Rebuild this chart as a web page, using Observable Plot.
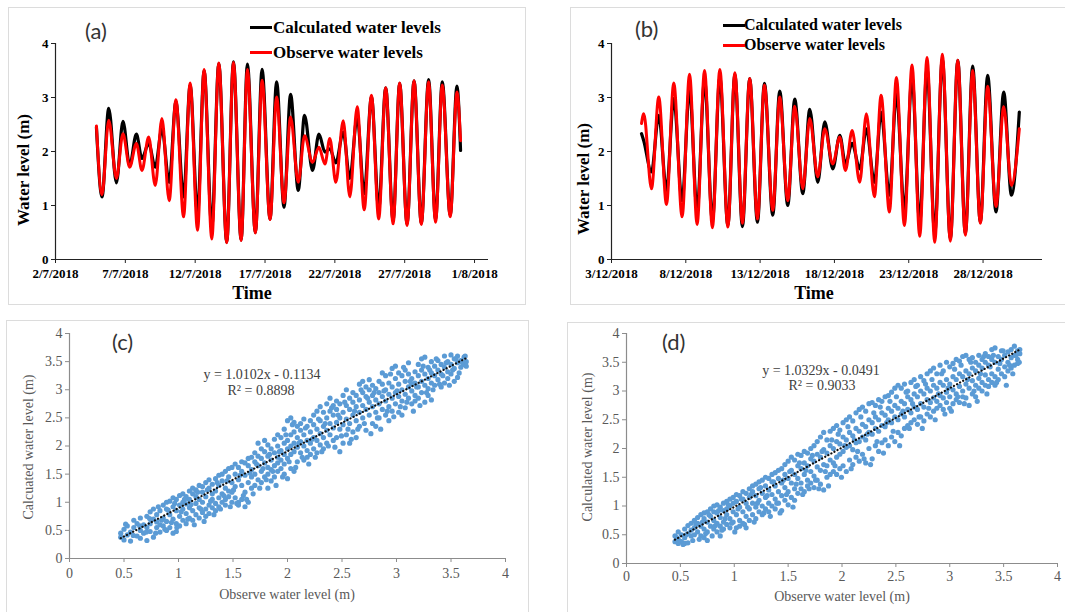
<!DOCTYPE html>
<html><head><meta charset="utf-8">
<script src="https://cdn.jsdelivr.net/npm/d3@7"></script>
<script src="https://cdn.jsdelivr.net/npm/@observablehq/plot@0.6"></script>
<style>
html,body{margin:0;padding:0;background:#fff}
body{width:1065px;height:612px;position:relative;overflow:hidden}
.frame{position:absolute;border:1px solid #dcdcdc;box-sizing:border-box}
.holder{position:absolute}
.holder.ts svg text{font-weight:700 !important}
.t{position:absolute;white-space:nowrap;line-height:1}
.serif{font-family:"Liberation Serif","Times New Roman",serif}
.bold{font-weight:bold}
.sans{font-family:Lato,"Open Sans",sans-serif}
.sw{position:absolute;height:3px;width:22px}
</style></head>
<body>
<script>
// ---------- DATA ----------
// Panel (a): extrema of the tidal curves, time in days after 2/7/2018 00:00
const tA = [2.93,3.33,3.81,4.36,4.83,5.31,5.79,6.19,6.67,7.14,7.62,8.14,8.62,9.17,9.64,10.17,10.64,11.19,11.69,12.26,12.74,13.29,13.74,14.31,14.79,15.36,15.83,16.36,16.83,17.38,17.83,18.40,18.86,19.29,19.64,20.07,20.6,21.07,21.6,22.1,22.62,23.14,23.64,24.17,24.64,25.17,25.67,26.19,26.71,27.21,27.69,28.26,28.74,29.0];
const calcA = [2.45,1.16,2.8,1.42,2.56,1.74,2.32,1.87,2.15,1.71,2.42,1.43,2.92,1.16,3.23,0.85,3.5,0.6,3.63,0.32,3.66,0.36,3.62,0.5,3.52,0.75,3.29,0.97,3.06,1.28,2.67,1.65,2.32,1.99,2.05,1.79,2.36,1.5,2.64,1.22,3.01,0.94,3.18,0.72,3.26,0.66,3.31,0.67,3.33,0.74,3.29,0.82,3.21,2.02];
const obsA = [2.47,1.2,2.58,1.5,2.33,1.71,2.15,1.65,2.27,1.37,2.61,1.09,2.96,0.79,3.27,0.54,3.52,0.38,3.64,0.31,3.65,0.35,3.52,0.49,3.32,0.74,3.01,1.05,2.64,1.43,2.29,1.8,2.08,1.77,2.24,1.43,2.57,1.16,2.83,0.92,3.04,0.75,3.18,0.66,3.27,0.63,3.31,0.65,3.29,0.69,3.23,0.79,3.1,2.2];
const ticksA = ["2018-07-02","2018-07-07","2018-07-12","2018-07-17","2018-07-22","2018-07-27","2018-08-01"];
const domainA = ["2018-07-02","2018-08-02"];

// Panel (b): time in days after 3/12/2018 00:00
const tB = [2.02,2.17,2.69,3.18,3.70,4.19,4.75,5.25,5.76,6.26,6.79,7.29,7.83,8.30,8.81,9.30,9.82,10.29,10.85,11.32,11.86,12.33,12.87,13.34,13.88,14.35,14.89,15.36,15.74,16.19,16.70,17.15,17.69,18.14,18.70,19.17,19.71,20.22,20.74,21.23,21.75,22.26,22.80,23.30,23.81,24.30,24.82,25.31,25.87,26.39,26.91,27.44];
const calcB = [2.33,2.2,1.62,2.67,1.28,2.98,1.09,3.15,0.91,3.32,0.72,3.38,0.63,3.43,0.61,3.35,0.69,3.26,0.82,3.12,1.0,2.97,1.22,2.78,1.43,2.55,1.68,2.3,1.77,2.15,1.68,2.42,1.43,2.73,1.19,3.07,0.91,3.38,0.69,3.54,0.48,3.72,0.38,3.69,0.48,3.58,0.69,3.41,0.88,3.1,1.19,2.73];
const obsB = [2.52,2.7,1.31,3.01,1.02,3.27,0.79,3.43,0.65,3.5,0.59,3.52,0.6,3.46,0.67,3.35,0.75,3.23,0.91,3.01,1.09,2.84,1.31,2.61,1.53,2.42,1.77,2.27,1.65,2.39,1.43,2.7,1.16,3.04,0.88,3.37,0.63,3.6,0.43,3.74,0.32,3.8,0.34,3.69,0.45,3.5,0.67,3.21,0.98,2.83,1.37,2.42];
const ticksB = ["2018-12-03","2018-12-08","2018-12-13","2018-12-18","2018-12-23","2018-12-28"];
const domainB = ["2018-12-03","2019-01-01"];

// Panel (c): observed x, calculated y values read column by column
const scatterC = [
[0.47,[0.45,0.38]],[0.50,[0.33,0.52]],[0.53,[0.42,0.58]],[0.56,[0.31,0.47]],[0.59,[0.55,0.68]],[0.62,[0.4,0.62]],
[0.65,[0.72,0.5,0.36]],[0.68,[0.45,0.6]],[0.71,[0.32,0.75,0.55]],[0.74,[0.62,0.48,0.83]],[0.77,[0.38,0.7,0.88]],
[0.80,[0.55,0.78,0.65]],[0.83,[0.85,0.6,0.47]],[0.86,[0.72,0.95,0.58]],[0.89,[0.66,0.88,1.0,0.5]],[0.92,[0.78,0.55,1.02]],
[0.95,[0.45,0.92,0.7,1.08]],[0.98,[0.85,0.62,1.05,0.48]],[1.01,[0.95,0.75,1.12,0.58]],[1.04,[0.68,1.0,0.88,1.15]],
[1.07,[0.8,1.1,0.62,0.97]],[1.10,[1.2,0.9,0.72,1.05]],[1.13,[0.85,1.15,1.25,0.68]],[1.16,[0.98,1.22,0.78,1.1]],
[1.19,[1.3,0.9,1.05,0.72]],[1.22,[1.18,0.82,1.28,1.0]],[1.25,[1.35,1.1,0.88,0.75]],[1.28,[0.95,1.25,1.4,0.8]],
[1.31,[1.15,1.32,0.9,1.05]],[1.34,[1.42,1.2,0.98,0.85]],[1.37,[1.3,1.08,1.48,0.92]],[1.40,[1.38,1.15,1.5,1.0]],
[1.43,[1.25,1.55,1.05,0.95]],[1.46,[1.45,1.6,1.2,1.1]],[1.49,[1.35,1.62,1.0,1.18]],[1.52,[1.5,1.28,1.68,1.08]],
[1.55,[1.62,1.4,1.0,0.95]],[1.58,[1.55,1.72,1.3,1.05]],[1.61,[1.48,1.7,0.92,1.18]],[1.64,[1.65,1.78,1.35,1.0]],
[1.67,[1.58,1.8,1.25,1.45]],[1.70,[1.72,1.88,1.5,1.3]],[1.73,[1.65,2.05,1.4,1.82]],[1.76,[1.78,1.55,1.95,1.35]],
[1.79,[1.9,1.7,2.1,1.45]],[1.82,[1.82,1.62,2.02,1.5,1.25]],[1.85,[1.95,1.75,1.58,1.38]],[1.88,[1.88,2.12,1.65,1.45]],
[1.91,[2.0,1.8,1.55,2.2,1.7]],[1.94,[1.92,2.15,1.75,1.6]],[1.97,[2.05,1.85,2.3,1.68,1.5]],[2.00,[2.1,1.95,2.45,1.78,1.42]],
[2.03,[2.2,2.0,2.5,1.85,1.6]],[2.06,[2.25,2.05,1.9,2.42,1.55]],[2.09,[2.15,2.35,1.98,1.72]],[2.12,[2.28,2.08,1.88,2.4]],
[2.15,[2.2,2.0,1.75,2.48]],[2.18,[2.35,2.1,1.92,1.8]],[2.21,[2.25,2.45,2.05,1.85]],[2.24,[2.38,2.15,2.55,1.95]],
[2.27,[2.3,2.62,2.1,1.88]],[2.30,[2.45,2.22,2.02,2.7]],[2.33,[2.35,2.6,2.15,1.95]],[2.36,[2.75,2.5,2.28,2.05]],
[2.39,[2.85,2.4,2.2,2.62]],[2.42,[2.55,2.32,2.72,2.1]],[2.45,[2.65,2.42,2.15,2.8]],[2.48,[2.5,2.75,2.3,1.9]],
[2.51,[2.6,2.38,2.9,2.05]],[2.54,[2.72,2.48,2.2,3.0]],[2.57,[2.65,2.85,2.4,2.05]],[2.60,[2.78,2.55,2.95,2.25]],
[2.63,[2.7,2.9,2.45,2.15]],[2.66,[2.82,3.1,2.6,2.35]],[2.69,[2.95,2.72,3.15,2.5]],[2.72,[2.88,2.65,3.05,2.28]],
[2.75,[3.0,2.78,3.18,2.55]],[2.78,[2.9,2.7,3.08,2.4]],[2.81,[3.02,2.82,2.6,2.35]],[2.84,[2.95,3.15,2.75,2.5]],
[2.87,[3.1,2.88,2.65,3.3]],[2.90,[3.0,2.8,3.25,2.55]],[2.93,[3.12,2.92,2.7,2.45]],[2.96,[3.05,3.38,2.85,2.62]],
[2.99,[3.2,2.95,2.75,3.42]],[3.02,[3.1,2.88,2.6,3.3]],[3.05,[3.25,3.0,2.8,2.55]],[3.08,[3.15,2.92,3.35,2.68]],
[3.11,[3.28,3.05,2.85,3.48]],[3.14,[3.2,2.98,2.75,3.1]],[3.17,[3.32,3.12,2.9,2.8]],[3.20,[3.25,3.05,3.45,2.85]],
[3.23,[3.35,3.15,2.95,3.55]],[3.26,[3.28,3.08,2.78,3.58]],[3.29,[3.4,3.2,2.9,3.02]],[3.32,[3.3,3.12,3.5,2.82]],
[3.35,[3.42,3.25,3.08]],[3.38,[3.35,3.18,3.52]],[3.41,[3.45,3.28,3.05]],[3.44,[3.4,3.6,3.12]],[3.47,[3.5,3.32,3.2]],
[3.50,[3.62,3.45,3.28]],[3.53,[3.55,3.38,3.15]],[3.56,[3.48,3.6,3.22]],[3.59,[3.52,3.4]],[3.62,[3.58,3.45]],[3.64,[3.5,3.42]]
];
// Panel (c): further scattered points between the columns
const extraC = [
[0.515,0.61],[0.585,0.41],[0.645,0.58],[0.705,0.47],[0.735,0.71],[0.79,0.45],[0.815,0.92],[0.845,0.68],[0.875,0.52],[0.905,0.86],
[0.935,0.64],[0.965,0.98],[0.985,0.55],[1.025,0.83],[1.055,1.05],[1.085,0.7],[1.115,0.96],[1.145,0.6],[1.175,1.18],[1.205,0.88],
[1.235,0.66],[1.265,1.22],[1.295,1.02],[1.325,0.78],[1.355,1.35],[1.385,0.88],[1.415,1.12],[1.445,1.38],[1.475,0.92],[1.505,1.22],
[1.535,0.98],[1.565,1.48],[1.595,1.12],[1.625,1.05],[1.655,1.52],[1.685,1.15],[1.715,1.68],[1.745,1.25],[1.775,1.6],[1.805,1.4],
[1.835,1.85],[1.865,1.55],[1.895,1.3],[1.925,1.9],[1.955,1.45],[1.985,2.2],[2.015,1.72],[2.045,2.38],[2.075,1.62],[2.105,2.05],
[2.135,1.8],[2.165,2.32],[2.195,1.68],[2.225,2.12],[2.255,1.8],[2.285,2.48],[2.315,1.9],[2.345,2.4],[2.375,2.0],[2.405,2.68],
[2.435,1.98],[2.465,2.55],[2.495,2.18],[2.525,2.78],[2.555,2.3],[2.585,2.12],[2.615,2.62],[2.645,2.3],[2.675,3.0],[2.705,2.4],
[2.735,2.85],[2.765,2.22],[2.795,2.95],[2.825,2.5],[2.855,2.3],[2.885,2.98],[2.915,2.62],[2.945,3.28],[2.975,2.52],[3.005,2.98],
[3.035,2.7],[3.065,3.4],[3.095,2.78],[3.125,3.15],[3.155,2.62],[3.185,3.05],[3.215,2.72],[3.245,3.42],[3.275,2.95],[3.305,3.35],
[3.335,3.0],[3.365,3.55],[3.395,3.1],[3.425,3.25],[3.455,3.48],[3.485,3.08],[3.515,3.35],[3.545,3.55],[3.575,3.3],[3.605,3.48],[3.63,3.6]
];
const trendC = {slope: 1.0102, intercept: -0.1134, x0: 0.47, x1: 3.65};

// Panel (d)
const scatterD = [
[0.45,[0.38,0.48]],[0.48,[0.42,0.55,0.35]],[0.51,[0.5,0.38]],[0.54,[0.6,0.45,0.35]],[0.57,[0.52,0.66,0.36]],
[0.60,[0.48,0.7,0.58]],[0.63,[0.62,0.75,0.5]],[0.66,[0.7,0.55,0.8]],[0.69,[0.65,0.48,0.85]],[0.72,[0.78,0.6,0.88,0.45]],
[0.75,[0.72,0.9,0.55,0.4]],[0.78,[0.82,0.65,0.95]],[0.81,[0.75,0.9,0.6,1.0]],[0.84,[0.88,0.7,1.02,0.55]],
[0.87,[0.8,0.98,0.65,0.48]],[0.90,[0.92,1.05,0.72,0.6]],[0.93,[0.85,1.08,0.68,0.95]],[0.96,[1.0,0.78,1.12,0.62]],
[0.99,[0.9,1.15,0.72,1.05]],[1.02,[1.08,0.85,1.2,0.62]],[1.05,[0.98,1.18,0.75,0.65]],[1.08,[1.12,0.9,1.25,0.7]],
[1.11,[1.05,1.22,0.82,0.62]],[1.14,[1.15,0.95,1.3,0.75]],[1.17,[1.25,1.05,0.85,1.35]],[1.20,[1.18,0.98,1.38,0.78]],
[1.23,[1.3,1.1,0.9,1.42]],[1.26,[1.22,1.45,1.0,0.85]],[1.29,[1.35,1.15,1.5,0.95]],[1.32,[1.28,1.48,1.05,0.9]],
[1.35,[1.42,1.2,1.55,1.0]],[1.38,[1.35,1.58,1.12,0.95]],[1.41,[1.48,1.25,1.62,1.05]],[1.44,[1.4,1.65,1.18,0.92]],
[1.47,[1.55,1.32,1.72,1.1]],[1.50,[1.48,1.78,1.25,1.02]],[1.53,[1.62,1.4,1.85,1.15]],[1.56,[1.55,1.8,1.3,1.1]],
[1.59,[1.7,1.48,1.9,1.22]],[1.62,[1.65,1.88,1.4,1.3]],[1.65,[1.75,1.95,1.55,1.25]],[1.68,[1.7,1.92,1.45,1.35]],
[1.71,[1.82,2.0,1.6,1.4]],[1.74,[1.78,2.05,1.52,1.32]],[1.77,[1.9,2.12,1.68,1.45]],[1.80,[1.85,2.2,1.62,1.38]],
[1.83,[1.98,2.28,1.72,1.28]],[1.86,[1.92,2.15,1.7,1.5]],[1.89,[2.05,2.3,1.8,1.55]],[1.92,[2.0,2.35,1.75,1.6]],
[1.95,[2.12,2.4,1.85,1.55]],[1.98,[2.08,2.32,1.9,1.65]],[2.01,[2.2,2.45,1.95,1.7]],[2.04,[2.15,2.5,2.02,1.6]],
[2.07,[2.28,2.55,2.05,1.8]],[2.10,[2.22,2.48,1.98,1.72]],[2.13,[2.35,2.62,2.1,1.85]],[2.16,[2.3,2.68,2.12,1.78]],
[2.19,[2.42,2.72,2.2,1.9]],[2.22,[2.38,2.65,2.15,1.75]],[2.25,[2.5,2.78,2.28,2.0]],[2.28,[2.45,2.8,2.25,1.82]],
[2.31,[2.55,2.75,2.35,2.05]],[2.34,[2.5,2.85,2.3,1.95]],[2.37,[2.62,2.4,2.82,2.1]],[2.40,[2.58,2.9,2.38,2.15]],
[2.43,[2.7,2.5,2.92,2.05]],[2.46,[2.65,2.98,2.45,2.2]],[2.49,[2.75,2.55,3.05,2.12]],[2.52,[2.7,3.1,2.5,2.28]],
[2.55,[2.82,3.05,2.6,2.22]],[2.58,[2.78,3.12,2.55,2.35]],[2.61,[2.9,2.68,3.0,2.4]],[2.64,[2.85,3.15,2.62,2.45]],
[2.67,[2.95,2.72,3.2,2.5]],[2.70,[2.9,3.1,2.68,2.42]],[2.73,[3.0,2.78,3.25,2.55]],[2.76,[2.95,3.18,2.72,2.48]],
[2.79,[3.05,2.85,3.3,2.6]],[2.82,[3.0,3.35,2.8,2.55]],[2.85,[3.1,2.88,3.4,2.65]],[2.88,[3.05,3.3,2.82,2.7]],
[2.91,[3.15,2.92,3.45,2.75]],[2.94,[3.1,3.35,2.88,2.68]],[2.97,[3.2,2.98,3.5,2.8]],[3.00,[3.12,3.42,2.9,2.7]],
[3.03,[3.25,3.02,3.48,2.78]],[3.06,[3.2,2.95,3.55,2.85]],[3.09,[3.3,3.08,3.52,2.8]],[3.12,[3.25,3.0,3.6,2.9]],
[3.15,[3.35,3.12,3.62,2.88]],[3.18,[3.3,3.05,3.55,2.75]],[3.21,[3.4,3.18,2.95,3.58]],[3.24,[3.35,3.1,3.5,2.9]],
[3.27,[3.45,3.22,3.05,3.62]],[3.30,[3.4,3.15,3.55,3.0]],[3.33,[3.5,3.28,3.1,3.65]],[3.36,[3.45,3.2,3.6,3.08]],
[3.39,[3.55,3.3,3.72,3.15]],[3.42,[3.5,3.25,3.75,3.1]],[3.45,[3.6,3.38,3.2]],[3.48,[3.55,3.7,3.3]],
[3.51,[3.62,3.42,3.25]],[3.54,[3.68,3.5,3.35]],[3.57,[3.72,3.58,3.4]],[3.60,[3.78,3.62,3.45]],[3.63,[3.7,3.55,3.48]],[3.65,[3.65,3.72]]
];
const extraD = [
[0.465,0.45],[0.525,0.33],[0.555,0.5],[0.615,0.4],[0.645,0.68],[0.675,0.42],[0.705,0.72],[0.735,0.52],[0.765,0.85],[0.795,0.48],
[0.825,0.66],[0.855,0.92],[0.885,0.58],[0.915,0.78],[0.945,1.02],[0.975,0.7],[1.005,0.55],[1.035,0.95],[1.065,1.12],[1.095,0.68],
[1.125,0.98],[1.155,1.2],[1.185,0.72],[1.215,1.05],[1.245,1.32],[1.275,0.88],[1.305,1.18],[1.335,0.82],[1.365,1.42],[1.395,1.05],
[1.425,0.88],[1.455,1.45],[1.485,1.2],[1.515,1.6],[1.545,0.98],[1.575,1.38],[1.605,1.75],[1.635,1.2],[1.665,1.62],[1.695,1.3],
[1.725,1.88],[1.755,1.45],[1.785,1.3],[1.815,1.95],[1.845,1.6],[1.875,1.35],[1.905,2.15],[1.935,1.7],[1.965,2.25],[1.995,1.5],
[2.025,2.05],[2.055,2.38],[2.085,1.65],[2.115,2.15],[2.145,1.95],[2.175,2.55],[2.205,1.82],[2.235,2.25],[2.265,1.72],[2.295,2.62],
[2.325,2.12],[2.355,2.72],[2.385,1.92],[2.415,2.45],[2.445,2.82],[2.475,2.3],[2.505,2.9],[2.535,2.05],[2.565,2.65],[2.595,2.98],
[2.625,2.35],[2.655,2.78],[2.685,3.08],[2.715,2.55],[2.745,2.35],[2.775,3.12],[2.805,2.7],[2.835,3.2],[2.865,2.5],[2.895,2.95],
[2.925,3.3],[2.955,2.6],[2.985,3.05],[3.015,2.65],[3.045,3.38],[3.075,2.9],[3.105,3.45],[3.135,2.78],[3.165,3.2],[3.195,3.5],
[3.225,3.0],[3.255,2.82],[3.285,3.3],[3.315,3.6],[3.345,2.95],[3.375,3.42],[3.405,3.62],[3.435,3.15],[3.465,3.48],[3.495,3.7],
[3.525,3.1],[3.555,3.45],[3.585,3.3],[3.615,3.62],[3.645,3.5]
];
const trendD = {slope: 1.0329, intercept: -0.0491, x0: 0.45, x1: 3.65};

const scatterTicks = [0,0.5,1,1.5,2,2.5,3,3.5,4];
const levelTicks = [0,1,2,3,4];

// ---------- HELPERS ----------
const DAY = 864e5;
const utc = s => new Date(s + "T00:00:00Z");
const fmtDate = d => `${d.getUTCDate()}/${d.getUTCMonth()+1}/${d.getUTCFullYear()}`;

function place(el, left, top, cls = "") {
  const h = document.createElement("div");
  h.className = "holder " + cls;
  h.style.left = left + "px"; h.style.top = top + "px";
  h.appendChild(el);
  document.body.appendChild(h);
}
function frame(l, t, w, h) {
  const f = document.createElement("div");
  f.className = "frame";
  Object.assign(f.style, {left: l + "px", top: t + "px", width: w + "px", height: h + "px"});
  document.body.appendChild(f);
}
function text(str, x, y, cls, css = {}, anchor = "middle", rotate = false) {
  const d = document.createElement("div");
  d.className = "t " + cls;
  d.innerHTML = str;
  const tx = anchor === "start" ? "0" : "-50%";
  d.style.left = x + "px"; d.style.top = y + "px";
  d.style.transform = `translate(${tx},-50%)` + (rotate ? " rotate(-90deg)" : "");
  Object.assign(d.style, css);
  document.body.appendChild(d);
}
function swatch(x, y, color) {
  const s = document.createElement("div");
  s.className = "sw";
  Object.assign(s.style, {left: x + "px", top: (y - 1.5) + "px", background: color});
  document.body.appendChild(s);
}

function timePlot({t, calc, obs, start, domain, ticks, width, height, ml, mr, mt, mb}) {
  const base = utc(start).getTime();
  const data = t.map((v, i) => ({date: new Date(base + v * DAY), calc: calc[i], obs: obs[i]}));
  const dom = domain.map(utc);
  const svg = Plot.plot({
    width, height, marginLeft: ml, marginRight: mr, marginTop: mt, marginBottom: mb,
    x: {type: "utc", domain: dom},
    y: {domain: [0, 4]},
    style: {fontFamily: "'Liberation Serif','Times New Roman',serif", fontSize: "13px", fontWeight: "700", color: "#000", background: "transparent", overflow: "visible"},
    marks: [
      Plot.axisY({ticks: levelTicks, tickFormat: d => String(d), tickSize: 4, tickPadding: 3, label: null, stroke: "#222", fontWeight: "bold"}),
      Plot.axisX({ticks: ticks.map(utc), tickFormat: fmtDate, tickSize: 4, tickPadding: 5, label: null, stroke: "#222", fontWeight: "bold"}),
      Plot.ruleY([0], {stroke: "#222", strokeWidth: 1.2}),
      Plot.ruleX([dom[0]], {stroke: "#222", strokeWidth: 1.2}),
      Plot.line(data, {x: "date", y: "calc", stroke: "#000", strokeWidth: 3.2, curve: "monotone-x"}),
      Plot.line(data, {x: "date", y: "obs", stroke: "#ff0000", strokeWidth: 3, curve: "monotone-x"})
    ]
  });
  svg.querySelectorAll("text").forEach(n => n.setAttribute("font-weight", "bold"));
  return svg;
}

function scatterPlot({cols, extra, trend, width, height, ml, mr, mt, mb, pad}) {
  const data = cols.flatMap(([x, ys]) => ys.map(y => ({obs: x, calc: y})))
    .concat(extra.map(([x, y]) => ({obs: x, calc: y})));
  const line = [trend.x0, trend.x1].map(x => ({x, y: trend.slope * x + trend.intercept}));
  return Plot.plot({
    width, height, marginLeft: ml, marginRight: mr, marginTop: mt, marginBottom: mb,
    x: {domain: [0, 4]}, y: {domain: [0, 4]},
    style: {fontFamily: "'Liberation Serif','Times New Roman',serif", fontSize: "14px", color: "#595959", background: "transparent", overflow: "visible"},
    marks: [
      Plot.axisY({ticks: scatterTicks, tickFormat: d => String(d), tickSize: 4, tickPadding: 3, label: null, stroke: "#8c8c8c"}),
      Plot.axisX({ticks: scatterTicks, tickFormat: d => String(d), tickSize: 4, tickPadding: pad, label: null, stroke: "#8c8c8c"}),
      Plot.ruleY([0], {stroke: "#8c8c8c", strokeWidth: 1.2}),
      Plot.ruleX([0], {stroke: "#8c8c8c", strokeWidth: 1.2}),
      Plot.dot(data, {x: "obs", y: "calc", r: 2.6, fill: "#5b9bd5", stroke: "none"}),
      Plot.line(line, {x: "x", y: "y", stroke: "#111", strokeWidth: 2.2, strokeLinecap: "round", strokeDasharray: "0.1,3.4"})
    ]
  });
}

// ---------- FRAMES ----------
frame(8, 7, 518, 298);
frame(570, 7, 520, 298);
frame(6, 320, 523, 300);
frame(567, 322, 520, 300);

// ---------- PANEL (a) ----------
place(timePlot({t: tA, calc: calcA, obs: obsA, start: "2018-07-02", domain: domainA, ticks: ticksA,
  width: 517, height: 297, ml: 47, mr: 37, mt: 36, mb: 45}), 8, 7, "ts");
// ---------- PANEL (b) ----------
place(timePlot({t: tB, calc: calcB, obs: obsB, start: "2018-12-03", domain: domainB, ticks: ticksB,
  width: 495, height: 297, ml: 41, mr: 23, mt: 36, mb: 45}), 570, 7, "ts");
// ---------- PANEL (c) ----------
place(scatterPlot({cols: scatterC, extra: extraC, trend: trendC, width: 522, height: 292, ml: 63, mr: 23, mt: 13, mb: 54, pad: 6}), 6, 320);
// ---------- PANEL (d) ----------
place(scatterPlot({cols: scatterD, extra: extraD, trend: trendD, width: 498, height: 290, ml: 59, mr: 8, mt: 11, mb: 49, pad: 4}), 567, 322);

// ---------- TEXT ----------
const sansLbl = {fontSize: "22px", color: "#333"};
text("(a)", 85, 31, "sans", sansLbl, "start");
text("(b)", 635, 29, "sans", sansLbl, "start");
text("(c)", 112, 342, "sans", sansLbl, "start");
text("(d)", 662, 342, "sans", sansLbl, "start");

swatch(250, 27, "#000"); text("Calculated water levels", 273, 27, "serif bold", {fontSize: "17px"}, "start");
swatch(250, 52, "#ff0000"); text("Observe water levels", 273, 52, "serif bold", {fontSize: "17px"}, "start");
swatch(723, 25, "#000"); text("Calculated water levels", 744, 25, "serif bold", {fontSize: "16px"}, "start");
swatch(723, 45, "#ff0000"); text("Observe water levels", 744, 45, "serif bold", {fontSize: "16px"}, "start");

text("Time", 252, 293, "serif bold", {fontSize: "18px"});
text("Time", 814, 293, "serif bold", {fontSize: "18px"});
text("Water level (m)", 23, 170, "serif bold", {fontSize: "17px"}, "middle", true);
text("Water level (m)", 583, 179, "serif bold", {fontSize: "17px"}, "middle", true);

const grey = {fontSize: "14px", color: "#595959"};
text("Observe water level (m)", 287, 595, "serif", grey);
text("Observe water level (m)", 842, 597, "serif", grey);
text("Calcuated water level (m)", 29, 447, "serif", grey, "middle", true);
text("Calculated water level (m)", 588, 447, "serif", grey, "middle", true);

const eq = {fontSize: "14px", color: "#404040"};
text("y = 1.0102x - 0.1134", 262, 375, "serif", eq);
text("R² = 0.8898", 261, 391, "serif", eq);
text("y = 1.0329x - 0.0491", 821, 371, "serif", eq);
text("R² = 0.9033", 822, 386, "serif", eq);
</script>
</body></html>
